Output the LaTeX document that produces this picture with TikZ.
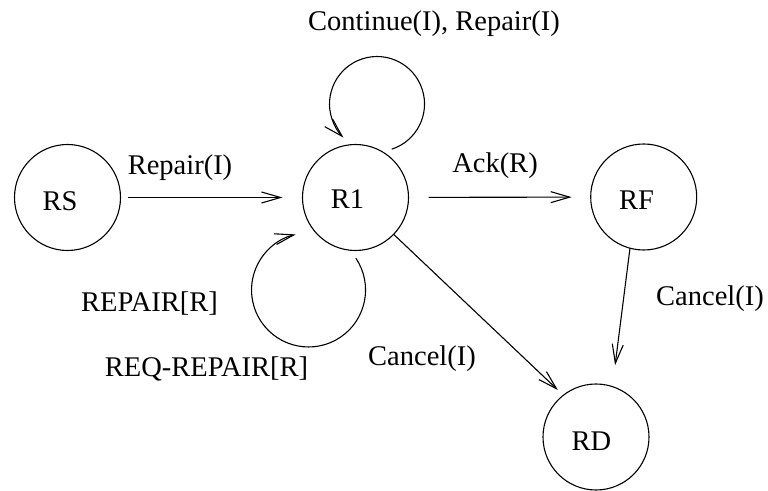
\documentclass[tikz,border=0pt]{standalone}
\usepackage{fontspec}
\setmainfont{Liberation Serif}
\usetikzlibrary{arrows.meta}
\begin{document}
\begin{tikzpicture}[x=1pt,y=1pt,
  every node/.style={font=\fontsize{28.5}{34}\selectfont},
  statebox/.style={circle,draw,line width=1.1pt,minimum size=106pt,inner sep=0pt,outer sep=0pt},
  statename/.style={inner sep=0pt},
  edgelabel/.style={anchor=base,inner sep=0pt},
  trans/.style={line width=1.1pt,-{Straight Barb[length=19pt,width=11pt,line width=1.1pt]}}]
\useasboundingbox (0,0) rectangle (768,490);

% states
\node[statebox] (rs) at (67.5,292.5) {};
\node[statebox] (r1) at (355.5,292.5) {};
\node[statebox] (rf) at (643.7,293) {};
\node[statebox] (rd) at (596,53) {};
\node[statename] (rstext) at (60,289) {RS};
\node[statename] (r1text) at (347.5,290.5) {R1};
\node[statename] (rftext) at (636.5,290) {RF};
\node[statename] (rdtext) at (591.5,49) {RD};

% straight transitions
\draw[trans,shorten <=7pt,shorten >=20pt] (rs) -- (r1);
\draw[trans,shorten <=20pt,shorten >=19pt] (r1) -- (rf);
\draw[trans,shorten >=7.6pt] (r1.-44) -- (rd.128);
\draw[trans,shorten >=21.6pt] (rf.-105) -- (rd.72);

% self loops on R1
\coordinate (toploop) at (391.7,340.8);
\draw[trans] (toploop) arc[start angle=-72,end angle=225,radius=47.5pt];
\coordinate (botloop) at (355.8,231.9);
\draw[trans] (botloop) arc[start angle=34,end angle=-257,radius=57pt];

% labels
\node[edgelabel] (lrep) at (180,315) {Repair(I)};
\node[edgelabel] (lack) at (495,317) {Ack(R)};
\node[edgelabel] (lcont) at (434,459) {Continue(I), Repair(I)};
\node[edgelabel] (lrepair) at (149.5,178) {REPAIR[R]};
\node[edgelabel] (lreq) at (206.5,113) {REQ-REPAIR[R]};
\node[edgelabel] (lcanc1) at (422,124) {Cancel(I)};
\node[edgelabel] (lcanc2) at (710,184) {Cancel(I)};
\end{tikzpicture}
\end{document}
